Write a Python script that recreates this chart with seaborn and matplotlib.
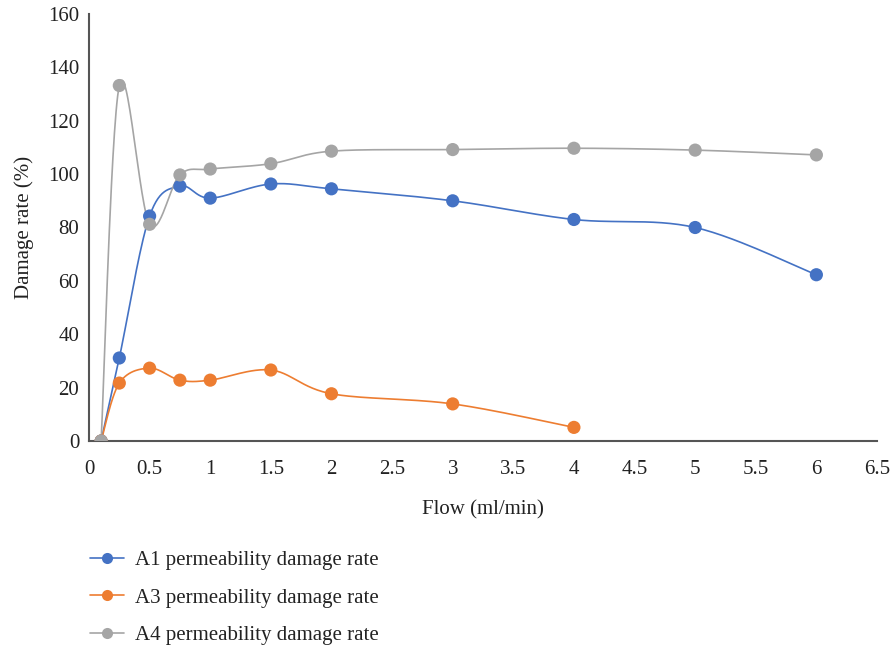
import numpy as np
import pandas as pd
import matplotlib
matplotlib.use("Agg")
import matplotlib.pyplot as plt
import seaborn as sns
from matplotlib.lines import Line2D

flow = [0.1, 0.25, 0.5, 0.75, 1, 1.5, 2, 3, 4, 5, 6]
a1 = [0, 31.1, 84.3, 95.5, 91.0, 96.3, 94.5, 90.0, 83.0, 80.0, 62.3]
flow_a3 = [0.1, 0.25, 0.5, 0.75, 1, 1.5, 2, 3, 4]
a3 = [0, 21.7, 27.3, 22.8, 22.8, 26.6, 17.7, 13.9, 5.1]
a4 = [0, 133.2, 81.2, 99.7, 101.9, 103.9, 108.6, 109.2, 109.7, 109.0, 107.2]

labels = ["A1 permeability damage rate", "A3 permeability damage rate", "A4 permeability damage rate"]
colors = ["#4472C4", "#ED7D31", "#A5A5A5"]
x_ticks = [0, 0.5, 1, 1.5, 2, 2.5, 3, 3.5, 4, 4.5, 5, 5.5, 6, 6.5]
y_ticks = [0, 20, 40, 60, 80, 100, 120, 140, 160]


def smooth(xs, ys, n=30):
    """Excel-like smoothed line (Catmull-Rom Bezier) through the data points."""
    P = np.column_stack([xs, ys]).astype(float)
    out = [P[0]]
    m = len(P)
    for i in range(m - 1):
        p0 = P[i - 1] if i > 0 else P[i]
        p1 = P[i]
        p2 = P[i + 1]
        p3 = P[i + 2] if i + 2 < m else P[i + 1]
        c1 = p1 + (p2 - p0) / 6.0
        c2 = p2 - (p3 - p1) / 6.0
        t = np.linspace(0, 1, n)[1:, None]
        seg = ((1 - t) ** 3) * p1 + 3 * ((1 - t) ** 2) * t * c1 + 3 * (1 - t) * t ** 2 * c2 + t ** 3 * p2
        out.extend(seg)
    out = np.array(out)
    return out[:, 0], out[:, 1]


sns.set_theme(style="white")
plt.rcParams["font.family"] = ["Liberation Serif", "DejaVu Serif"]
FS = 15

fig = plt.figure(figsize=(8.93, 6.48), dpi=100)
ax = fig.add_axes([89 / 893, 1 - 441 / 648, (877 - 89) / 893, (441 - 14) / 648])

series = [(flow, a1), (flow_a3, a3), (flow, a4)]
for (xs, ys), lab, c in zip(series, labels, colors):
    sx, sy = smooth(xs, ys)
    df_s = pd.DataFrame({"x": sx, "y": sy})
    sns.lineplot(data=df_s, x="x", y="y", ax=ax, color=c, lw=1.2, sort=False, estimator=None, zorder=2)
    df = pd.DataFrame({"x": xs, "y": ys})
    sns.scatterplot(data=df, x="x", y="y", ax=ax, color=c, s=90, edgecolor="none", zorder=3)

ax.set_xlim(0, 6.5)
ax.set_ylim(0, 160)
ax.set_xticks(x_ticks)
ax.set_xticklabels([f"{v:g}" for v in x_ticks])
ax.set_yticks(y_ticks)
ax.set_yticklabels([str(v) for v in y_ticks])
ax.tick_params(axis="both", length=0, labelsize=FS, colors="#222222")
ax.tick_params(axis="x", pad=14)
ax.tick_params(axis="y", pad=7)
for s in ["top", "right"]:
    ax.spines[s].set_visible(False)
for s in ["left", "bottom"]:
    ax.spines[s].set_color("#555555")
    ax.spines[s].set_linewidth(1.5)
ax.set_xlabel("Flow (ml/min)", fontsize=FS, color="#222222", labelpad=15)
ax.set_ylabel("Damage rate (%)", fontsize=FS, color="#222222", labelpad=10)

handles = [Line2D([0], [0], color=c, lw=1.2, marker="o", markersize=8, markeredgewidth=0) for c in colors]
fig.legend(handles, labels, loc="upper left", bbox_to_anchor=(71 / 893, 1 - 532 / 648),
           frameon=False, fontsize=FS, labelspacing=0.85, handlelength=1.65, handletextpad=0.5,
           labelcolor="#222222")

fig.savefig("out.png", dpi=100)
